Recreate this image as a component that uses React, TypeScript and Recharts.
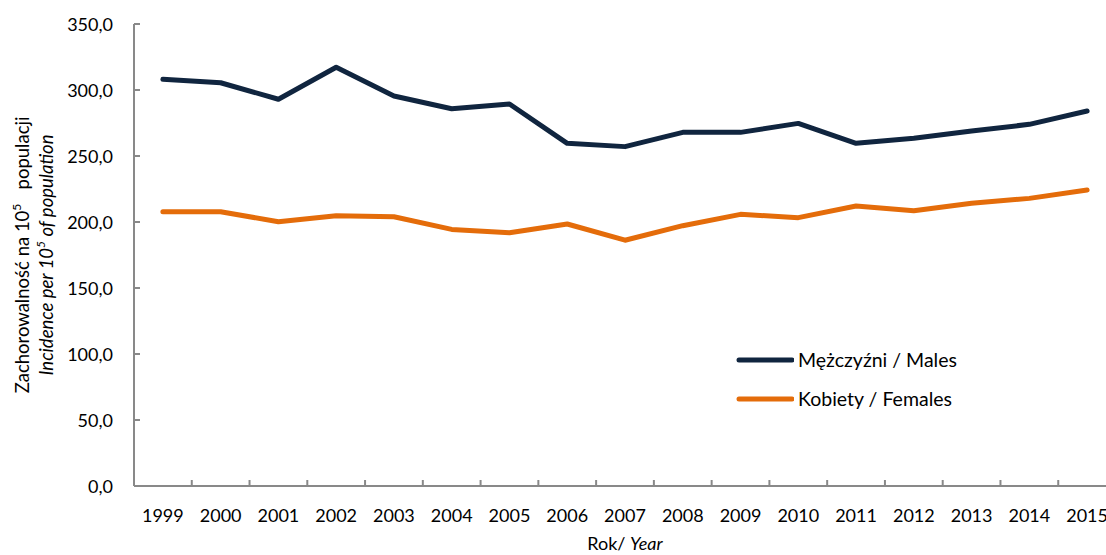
import React from "react";
import { LineChart, Line, XAxis, YAxis, Legend } from "recharts";

const years = ["1999", "2000", "2001", "2002", "2003", "2004", "2005", "2006", "2007", "2008", "2009", "2010", "2011", "2012", "2013", "2014", "2015"];
const males = [308.1, 305.5, 293.0, 317.2, 295.5, 285.8, 289.4, 259.6, 257.1, 267.9, 267.9, 274.7, 259.6, 263.4, 268.9, 274.0, 284.1];
const females = [207.8, 207.8, 200.2, 204.8, 204.0, 194.4, 191.9, 198.5, 186.2, 197.2, 205.8, 203.3, 212.1, 208.6, 214.2, 217.9, 224.2];
const yTicks = [0, 50, 100, 150, 200, 250, 300, 350];

const seriesNames = { males: "Mężczyźni / Males", females: "Kobiety / Females" };
const NAVY = "#10253f";
const ORANGE = "#e46c0a";
const AXIS = "#898989";
const FONT = "Lato, 'Open Sans', sans-serif";

const data = years.map((year, i) => ({ idx: i, year, males: males[i], females: females[i] }));

// labels sit on the categories, tick marks on the boundaries between them
const xTicks: number[] = [];
years.forEach((_, i) => {
  xTicks.push(i - 0.5, i);
});
xTicks.push(years.length - 0.5);

const XTick = (props: any) => {
  const { x, y, payload } = props;
  const v = payload.value as number;
  if (Number.isInteger(v)) {
    return (
      <text x={x} y={y + 36} textAnchor="middle" fontSize={18} fontFamily={FONT} fill="#000">
        {years[v]}
      </text>
    );
  }
  return <line x1={x} x2={x} y1={y} y2={y - 6} stroke={AXIS} strokeWidth={2} />;
};

const YTick = (props: any) => {
  const { x, y, payload } = props;
  return (
    <g>
      <line x1={x} x2={x + 6} y1={y} y2={y} stroke={AXIS} strokeWidth={2} />
      <text x={x - 21} y={y + 6.5} textAnchor="end" fontSize={18} fontFamily={FONT} fill="#000">
        {(payload.value as number).toFixed(1).replace(".", ",")}
      </text>
    </g>
  );
};

const YLabel = (props: any) => {
  const vb = props.viewBox || { x: 0, y: 24, width: 134, height: 462 };
  const cy = vb.y + vb.height / 2;
  return (
    <g fontFamily={FONT} fontSize={18.5} fill="#000">
      <text x={22} y={cy} textAnchor="middle" dominantBaseline="central" xmlSpace="preserve" transform={`rotate(-90, 22, ${cy})`}>
        <tspan>Zachorowalność na 10</tspan>
        <tspan fontSize={12} dy={-6}>5</tspan>
        <tspan dy={6}>{"   populacji"}</tspan>
      </text>
      <text x={46} y={cy} textAnchor="middle" dominantBaseline="central" fontStyle="italic" xmlSpace="preserve" transform={`rotate(-90, 46, ${cy})`}>
        <tspan>Incidence per 10</tspan>
        <tspan fontSize={12} dy={-6}>5</tspan>
        <tspan dy={6}>{" of population"}</tspan>
      </text>
    </g>
  );
};

const XLabel = (props: any) => {
  const vb = props.viewBox || { x: 134, y: 486, width: 982, height: 69 };
  return (
    <text x={vb.x + vb.width / 2} y={vb.y + 64} textAnchor="middle" fontSize={18} fontFamily={FONT} fill="#000">
      Rok/ <tspan fontStyle="italic">Year</tspan>
    </text>
  );
};

const LegendBox = () => (
  <div style={{ fontFamily: FONT, fontSize: 19.5, color: "#000" }}>
    {[
      { name: seriesNames.males, color: NAVY },
      { name: seriesNames.females, color: ORANGE },
    ].map((s) => (
      <div key={s.name} style={{ display: "flex", alignItems: "center", height: 39 }}>
        <svg width={58} height={10}>
          <line x1={3} x2={56} y1={5} y2={5} stroke={s.color} strokeWidth={5} strokeLinecap="round" />
        </svg>
        <span style={{ marginLeft: 4, whiteSpace: "nowrap" }}>{s.name}</span>
      </div>
    ))}
  </div>
);

export default function App() {
  return (
    <div style={{ position: "absolute", left: 0, top: 0, width: 1106, height: 555, overflow: "hidden", background: "#fff" }}>
      <LineChart width={1116} height={555} data={data} margin={{ top: 24, right: 0, bottom: 0, left: 0 }}>
        <XAxis
          dataKey="idx"
          type="number"
          domain={[-0.5, years.length - 0.5]}
          ticks={xTicks}
          interval={0}
          tick={<XTick />}
          tickLine={false}
          tickSize={0}
          tickMargin={0}
          height={69}
          axisLine={{ stroke: AXIS, strokeWidth: 2 }}
          label={<XLabel />}
        />
        <YAxis
          type="number"
          domain={[0, 350]}
          ticks={yTicks}
          interval={0}
          tick={<YTick />}
          tickLine={false}
          tickSize={0}
          tickMargin={0}
          width={134}
          axisLine={{ stroke: AXIS, strokeWidth: 2 }}
          label={<YLabel />}
        />
        <Legend
          layout="horizontal"
          verticalAlign="middle"
          content={<LegendBox />}
          wrapperStyle={{ position: "absolute", left: 736, top: 340, width: "auto" }}
        />
        <Line
          type="linear"
          dataKey="males"
          name={seriesNames.males}
          stroke={NAVY}
          strokeWidth={5}
          strokeLinecap="round"
          strokeLinejoin="round"
          dot={false}
          isAnimationActive={false}
        />
        <Line
          type="linear"
          dataKey="females"
          name={seriesNames.females}
          stroke={ORANGE}
          strokeWidth={5}
          strokeLinecap="round"
          strokeLinejoin="round"
          dot={false}
          isAnimationActive={false}
        />
      </LineChart>
    </div>
  );
}
